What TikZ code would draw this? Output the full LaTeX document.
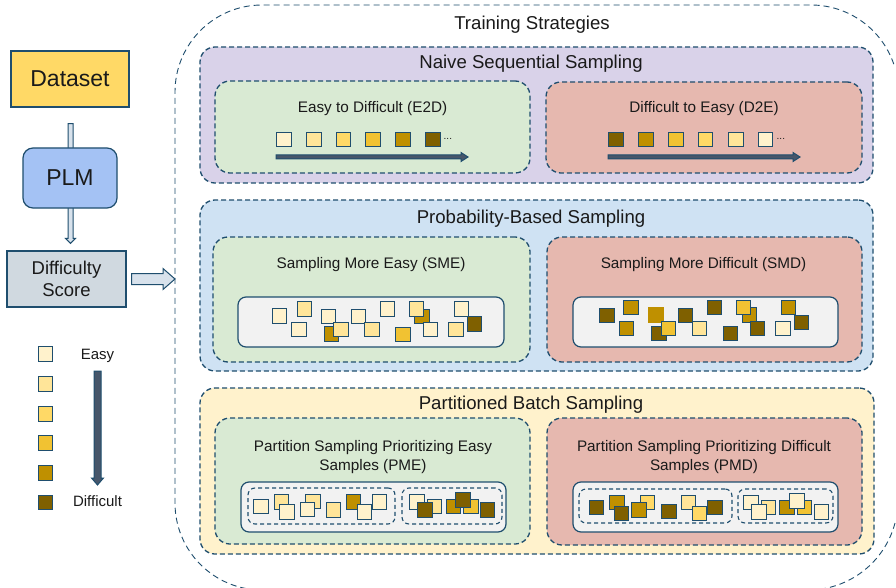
\documentclass[tikz,border=0pt]{standalone}
\usepackage{fontspec}
\setmainfont{Liberation Sans}
\usetikzlibrary{calc,fit}
\definecolor{bd}{HTML}{1F4E6E}
\definecolor{c1}{HTML}{FFF2CC}
\definecolor{c2}{HTML}{FFE599}
\definecolor{c3}{HTML}{FFD966}
\definecolor{c4}{HTML}{F1C232}
\definecolor{c5}{HTML}{BF9000}
\definecolor{c6}{HTML}{7F6000}
\definecolor{purp}{HTML}{D9D2E9}
\definecolor{blu}{HTML}{CFE2F3}
\definecolor{yel}{HTML}{FFF2CC}
\definecolor{grn}{HTML}{D9EAD3}
\definecolor{rdd}{HTML}{E6B8AF}
\definecolor{wht}{HTML}{F2F2F2}
\definecolor{plmc}{HTML}{A4C2F4}
\definecolor{dsc}{HTML}{D0D9E0}
\definecolor{arl}{HTML}{D8E2EC}
\definecolor{ard}{HTML}{47566A}
\definecolor{txt}{HTML}{1A1A1A}
\tikzset{
  sqr/.style={draw=bd, line width=1.1pt, minimum size=14.5pt, inner sep=0pt, fill=#1},
  panel/.style={draw=bd, dashed, dash pattern=on 5pt off 3pt, line width=1.3pt, rounded corners=15pt, inner sep=0pt},
  wbox/.style={draw=bd, line width=1.2pt, rounded corners=8pt, fill=wht, inner sep=0pt},
  pbox/.style={draw=bd, dashed, dash pattern=on 4pt off 3pt, line width=1.1pt, rounded corners=7pt, inner sep=0pt},
  ttl/.style={anchor=base, text=txt, inner sep=0pt, font=\fontsize{18.6}{22}\selectfont},
  sub/.style={anchor=base, text=txt, inner sep=0pt, font=\fontsize{15.3}{18.3}\selectfont},
  subm/.style={anchor=north, text=txt, inner sep=0pt, align=center, font=\fontsize{15.3}{18.3}\selectfont},
  lgd/.style={anchor=base, text=txt, inner sep=0pt, font=\fontsize{15}{18}\selectfont},
  lbox/.style={draw=bd, line width=1.2pt, text=txt, inner sep=0pt},
  barl/.style={draw=bd, line width=1pt, fill=arl},
  bard/.style={draw=bd, line width=1pt, fill=ard},
  dots/.style={anchor=base west, inner sep=0pt, text=txt, font=\fontsize{10}{12}\selectfont},
  outerbox/.style={draw=bd, dashed, dash pattern=on 6pt off 4pt, line width=0.9pt},
}
\newcommand\sqbox[5][]{\node[sqr=#5,#1] (#2) at (#3,#4) {};}
\newcommand\region[6]{\node[#1, fit={(#3,#4) (#5,#6)}] (#2) {};}
% horizontal block arrow: start, end, shaft half, head half, head length, style
\newcommand\harrow[6]{\draw[#6] ($(#1)+(0,-#3)$) -- ($(#2)+(-#5,-#3)$) -- ($(#2)+(-#5,-#4)$) -- (#2) -- ($(#2)+(-#5,#4)$) -- ($(#2)+(-#5,#3)$) -- ($(#1)+(0,#3)$) -- cycle;}
% vertical block arrow (downwards)
\newcommand\varrow[6]{\draw[#6] ($(#1)+(-#3,0)$) -- ($(#2)+(-#3,-#5)$) -- ($(#2)+(-#4,-#5)$) -- (#2) -- ($(#2)+(#4,-#5)$) -- ($(#2)+(#3,-#5)$) -- ($(#1)+(#3,0)$) -- cycle;}
\begin{document}
\begin{tikzpicture}[x=1pt,y=-1pt]
\useasboundingbox (0,0) rectangle (896,588);
\clip (0,0) rectangle (896,588);
\fill[white] (0,0) rectangle (896,588);

% ---------- left column ----------
\node[lbox, fill=c3, minimum width=118pt, minimum height=56pt, font=\fontsize{23}{26}\selectfont] (dataset) at (70,79) {Dataset};
\node[lbox, fill=dsc, minimum width=119pt, minimum height=56pt, align=center, font=\fontsize{18.5}{22.4}\selectfont] (diff) at (66.5,279) {Difficulty\\Score};
\coordinate (a1s) at ($(dataset.south)+(0.5,16)$);
\coordinate (a1e) at ($(a1s |- diff.north)+(0,-7)$);
\varrow{a1s}{a1e}{2.5}{5}{5}{barl}
\node[lbox, fill=plmc, rounded corners=10pt, minimum width=94pt, minimum height=60pt, font=\fontsize{23}{26}\selectfont] (plm) at (70,178) {PLM};

% ---------- outer box (its right side runs off the picture) ----------
\draw[outerbox] (895,523) arc[start angle=14.8, end angle=90, radius=90] -- (262,590)
  arc[start angle=90, end angle=180, radius=87] -- (175,92)
  arc[start angle=180, end angle=270, radius=87] -- (811,5)
  arc[start angle=270, end angle=341.5, radius=87.5];
\coordinate (trainW) at (175,279);
\node[ttl] (trainT) at (532,30) {Training Strategies};

\coordinate (a2s) at ($(diff.east)+(5,0)$);
\coordinate (a2e) at (trainW |- a2s);
\harrow{a2s}{a2e}{5.5}{10.5}{12}{barl}

% ---------- legend ----------
\sqbox{l1}{45.5}{354}{c1}
\sqbox{l2}{45.5}{384}{c2}
\sqbox{l3}{45.5}{414}{c3}
\sqbox{l4}{45.5}{443}{c4}
\sqbox{l5}{45.5}{473}{c5}
\sqbox{l6}{45.5}{502.5}{c6}
\node[lgd] (easyT) at (97.5,359) {Easy};
\node[lgd] (diffT) at (97.5,506.5) {Difficult};
\coordinate (lgs) at (97.5,371);
\coordinate (lge) at (97.5,485);
\varrow{lgs}{lge}{3.5}{6}{7}{bard}

% ---------- panel 1 ----------
\region{panel, fill=purp}{nss}{200}{47}{873}{183}
\node[ttl] (nssT) at (531,69) {Naive Sequential Sampling};
\region{panel, fill=grn}{e2d}{215}{81}{530}{173}
\region{panel, fill=rdd}{d2e}{546}{82}{862}{173}
\node[sub] (e2dT) at (372.5,112.5) {Easy to Difficult (E2D)};
\node[sub] (d2eT) at (704,112.5) {Difficult to Easy (D2E)};
\sqbox{e1}{284}{139.5}{c1}
\sqbox{e2}{314}{139.5}{c2}
\sqbox{e3}{343.5}{139.5}{c3}
\sqbox{e4}{373}{139.5}{c4}
\sqbox{e5}{403}{139.5}{c5}
\sqbox{e6}{433}{139.5}{c6}
\node[dots] (edots) at (443.5,140) {...};
\sqbox{d1}{616}{139.5}{c6}
\sqbox{d2}{646}{139.5}{c5}
\sqbox{d3}{676}{139.5}{c4}
\sqbox{d4}{705.5}{139.5}{c3}
\sqbox{d5}{736}{139.5}{c2}
\sqbox{d6}{765.5}{139.5}{c1}
\node[dots] (ddots) at (776.5,140) {...};
\coordinate (e2ds) at (276,157);
\coordinate (e2de) at (468,157);
\harrow{e2ds}{e2de}{2}{4.5}{7}{bard}
\coordinate (d2es) at (608,157);
\coordinate (d2ee) at (800,157);
\harrow{d2es}{d2ee}{2}{4.5}{7}{bard}

% ---------- panel 2 ----------
\region{panel, fill=blu}{pbs}{200}{200}{873}{371}
\node[ttl] (pbsT) at (531,223) {Probability-Based Sampling};
\region{panel, fill=grn}{sme}{213}{237}{530}{362}
\region{panel, fill=rdd}{smd}{547}{237}{862}{362}
\node[sub] (smeT) at (371,268.5) {Sampling More Easy (SME)};
\node[sub] (smdT) at (703.5,268.5) {Sampling More Difficult (SMD)};
\region{wbox}{smew}{238}{297}{504}{347}
\region{wbox}{smdw}{573}{297}{838}{347}
% SME squares
\sqbox{a1}{279.5}{316}{c1}
\sqbox{a2}{304.5}{309}{c2}
\sqbox{a3}{299}{329.5}{c1}
\sqbox{a4}{328.5}{316.5}{c1}
\sqbox{a5}{331.5}{334}{c5}
\sqbox{a6}{341}{329.5}{c2}
\sqbox{a7}{358.5}{316.5}{c1}
\sqbox{a8}{372}{329.5}{c2}
\sqbox{a9}{387.5}{309}{c1}
\sqbox{a10}{403}{334.5}{c4}
\sqbox{a12}{422}{316.5}{c5}
\sqbox{a11}{416.5}{309}{c2}
\sqbox{a13}{430.5}{329.5}{c1}
\sqbox{a14}{461.5}{309}{c1}
\sqbox{a15}{456}{329.5}{c2}
\sqbox{a16}{474.5}{324}{c6}
% SMD squares
\sqbox{b1}{607}{315.5}{c6}
\sqbox{b2}{631}{307.5}{c5}
\sqbox{b3}{626.5}{328.5}{c5}
\sqbox[draw=none, minimum size=15.5pt]{b4}{656}{315}{c5}
\sqbox{b5}{659}{333.5}{c6}
\sqbox{b6}{668.5}{328.5}{c4}
\sqbox{b7}{685.5}{315.5}{c6}
\sqbox{b8}{699.5}{328.5}{c2}
\sqbox{b9}{714.5}{307.5}{c6}
\sqbox{b10}{730.5}{333.5}{c6}
\sqbox{b11}{749.5}{315}{c5}
\sqbox{b12}{743.5}{307.5}{c4}
\sqbox{b13}{757.5}{328.5}{c6}
\sqbox{b14}{783}{328.5}{c1}
\sqbox{b15}{788.5}{307.5}{c5}
\sqbox{b16}{801.5}{322.5}{c6}

% ---------- panel 3 ----------
\region{panel, fill=yel}{pbt}{200}{388}{874}{554}
\node[ttl] (pbtT) at (531,409) {Partitioned Batch Sampling};
\region{panel, fill=grn}{pme}{215}{418}{530}{544}
\region{panel, fill=rdd}{pmd}{547}{418}{862}{545}
\node[subm] (pmeT) at (373,440.5) {Partition Sampling Prioritizing Easy\\Samples (PME)};
\node[subm] (pmdT) at (704,440.5) {Partition Sampling Prioritizing Difficult\\Samples (PMD)};
\region{wbox}{pmew}{241}{482}{506}{532}
\region{wbox}{pmdw}{573}{482}{838}{532}
\region{pbox}{pmel}{248}{488}{395}{524}
\region{pbox}{pmer}{402}{488}{502}{524}
\region{pbox}{pmdl}{579}{489}{732}{523}
\region{pbox}{pmdr}{738}{489}{833}{523}
% PME squares
\sqbox{p1}{261}{506.5}{c1}
\sqbox{p2}{281.5}{502}{c2}
\sqbox{p3}{287}{512}{c1}
\sqbox{p4}{313}{501.5}{c2}
\sqbox{p5}{307.5}{509.5}{c1}
\sqbox{p6}{333.5}{510}{c2}
\sqbox{p7}{353.5}{502}{c5}
\sqbox{p8}{379.5}{502}{c1}
\sqbox{p9}{364.5}{512}{c1}
\sqbox{p10}{417}{502}{c1}
\sqbox{p11}{434.5}{506.5}{c2}
\sqbox{p12}{425}{510}{c6}
\sqbox{p13}{453.5}{506.5}{c5}
\sqbox{p14}{471}{506.5}{c4}
\sqbox{p15}{463}{500}{c6}
\sqbox{p16}{487.5}{510}{c6}
% PMD squares
\sqbox{q1}{596.5}{507.5}{c6}
\sqbox{q2}{617}{502.5}{c5}
\sqbox{q3}{621.5}{513.5}{c6}
\sqbox{q4}{647.5}{502.5}{c3}
\sqbox{q5}{639}{510}{c5}
\sqbox{q6}{669}{511.5}{c6}
\sqbox{q7}{688.5}{502.5}{c2}
\sqbox{q8}{699.5}{513.5}{c3}
\sqbox{q9}{715}{507.5}{c6}
\sqbox{q10}{751}{502.5}{c1}
\sqbox{q11}{768.5}{507.5}{c2}
\sqbox{q12}{759}{512}{c1}
\sqbox{q13}{787}{507.5}{c5}
\sqbox{q14}{804.5}{507.5}{c4}
\sqbox{q15}{797}{501}{c1}
\sqbox{q16}{821.5}{512}{c1}
\end{tikzpicture}
\end{document}
